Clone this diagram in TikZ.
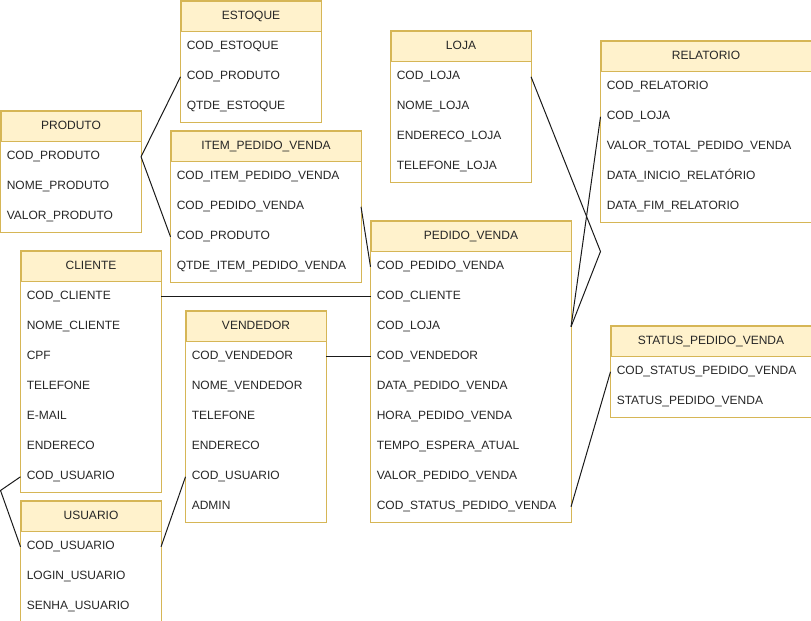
\documentclass[tikz,border=0pt]{standalone}
\usepackage{fontspec}
\setmainfont{Liberation Sans}
\usepackage{tikz}
\usetikzlibrary{calc}
\definecolor{tablefill}{HTML}{FFF2CC}
\definecolor{tableline}{HTML}{D6B656}
\definecolor{relline}{HTML}{1A1A1A}
\tikzset{
    tablehead/.style={draw=tableline, fill=tablefill, anchor=north west, minimum height=22.5pt,
        inner sep=0pt, text height=6.5pt, text depth=1.8pt, line width=0.75pt},
    tablefield/.style={anchor=north west, minimum height=22.5pt, inner xsep=4.5pt, inner ysep=0pt,
        align=left, text height=6.5pt, text depth=1.8pt},
    relation/.style={draw=relline, line width=0.75pt},
}
% one entity: name, x, y, width (px), title, fields
\newcommand{\ertable}[6]{%
    \pgfmathsetmacro\fieldwd{(#4-12)*0.75}
    \node[tablehead, minimum width=#4*0.75pt] (#1) at (#2,#3) {#5};
    \foreach \f [count=\i] in {#6} {
        \node[tablefield, text width=\fieldwd pt] (#1\i) at ($(#1.south west)+(0,{30*(\i-1)})$) {\f};
        \xdef\lastfield{\i}
    }
    \draw[tableline, line width=0.75pt] (#1.north west) rectangle (#1\lastfield.south east);
}

\begin{document}
\begin{tikzpicture}[x=0.75pt, y=-0.75pt, font=\fontsize{9}{11}\selectfont, text=black!85]
    \useasboundingbox (-0.5,-0.5) rectangle (810.5,620.5);
    \ertable{estoque}{180}{0}{140}{ESTOQUE}{COD\_ESTOQUE, COD\_PRODUTO, QTDE\_ESTOQUE}
    \ertable{produto}{0}{110}{140}{PRODUTO}{COD\_PRODUTO, NOME\_PRODUTO, VALOR\_PRODUTO}
    \ertable{item}{170}{130}{190}{ITEM\_PEDIDO\_VENDA}{COD\_ITEM\_PEDIDO\_VENDA, COD\_PEDIDO\_VENDA, COD\_PRODUTO, QTDE\_ITEM\_PEDIDO\_VENDA}
    \ertable{loja}{390}{30}{140}{LOJA}{COD\_LOJA, NOME\_LOJA, ENDERECO\_LOJA, TELEFONE\_LOJA}
    \ertable{relatorio}{600}{40}{210}{RELATORIO}{COD\_RELATORIO, COD\_LOJA, VALOR\_TOTAL\_PEDIDO\_VENDA, DATA\_INICIO\_RELATÓRIO, DATA\_FIM\_RELATORIO}
    \ertable{pedido}{370}{220}{200}{PEDIDO\_VENDA}{COD\_PEDIDO\_VENDA, COD\_CLIENTE, COD\_LOJA, COD\_VENDEDOR, DATA\_PEDIDO\_VENDA, HORA\_PEDIDO\_VENDA, TEMPO\_ESPERA\_ATUAL, VALOR\_PEDIDO\_VENDA, COD\_STATUS\_PEDIDO\_VENDA}
    \ertable{cliente}{20}{250}{140}{CLIENTE}{COD\_CLIENTE, NOME\_CLIENTE, CPF, TELEFONE, E-MAIL, ENDERECO, COD\_USUARIO}
    \ertable{vendedor}{185}{310}{140}{VENDEDOR}{COD\_VENDEDOR, NOME\_VENDEDOR, TELEFONE, ENDERECO, COD\_USUARIO, ADMIN}
    \ertable{usuario}{20}{500}{140}{USUARIO}{COD\_USUARIO, LOGIN\_USUARIO, SENHA\_USUARIO}
    \ertable{status}{610}{325}{200}{STATUS\_PEDIDO\_VENDA}{COD\_STATUS\_PEDIDO\_VENDA, STATUS\_PEDIDO\_VENDA}
    % bends
    \coordinate (lojabend) at (relatorio5.south west |- pedido.south);
    \coordinate (usuariobend) at (0,490);
    % relations
    \draw[relation] (produto1.east) -- (estoque2.west);
    \draw[relation] (produto1.east) -- (item3.west);
    \draw[relation] (item2.east) -- (pedido1.west);
    \draw[relation] (cliente1.east) -- (pedido2.west);
    \draw[relation] (vendedor1.east) -- (pedido4.west);
    \draw[relation] (loja1.east) -- (lojabend) -- (pedido3.east);
    \draw[relation] (relatorio2.west) -- (pedido3.east);
    \draw[relation] (status1.west) -- (pedido9.east);
    \draw[relation] (cliente7.west) -- (usuariobend) -- (usuario1.west);
    \draw[relation] (vendedor5.west) -- (usuario1.east);
\end{tikzpicture}
\end{document}
